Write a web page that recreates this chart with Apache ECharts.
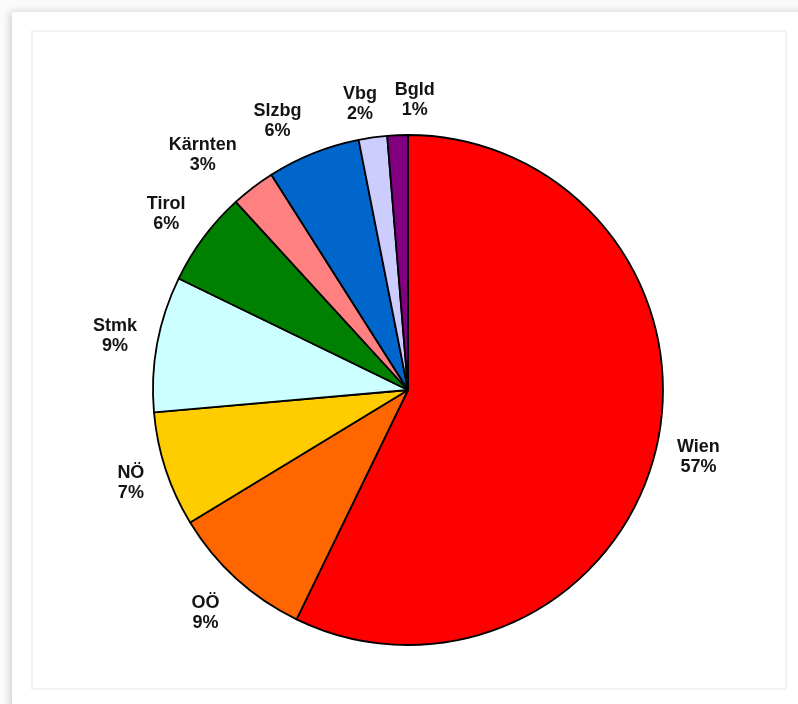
<!DOCTYPE html>
<html>
<head>
<meta charset="utf-8">
<script src="https://cdn.jsdelivr.net/npm/echarts@6/dist/echarts.min.js"></script>
<style>
  html, body { margin: 0; padding: 0; background: #ffffff; }
  #chart { width: 798px; height: 704px; }
</style>
</head>
<body>
<div id="chart"></div>
<script>
const categories = ['Wien', 'OÖ', 'NÖ', 'Stmk', 'Tirol', 'Kärnten', 'Slzbg', 'Vbg', 'Bgld'];
const values = [57.2, 9.1, 7.3, 8.6, 6.0, 2.8, 5.9, 1.8, 1.3];
const colors = ['#FF0000', '#FF6600', '#FFCC00', '#CCFFFF', '#008000', '#FF8080', '#0066CC', '#CCCCFF', '#800080'];

// small label nudges (pixels) to keep the crowded top labels apart, as in the original
const labelNudge = {
  'OÖ': [-2, 3],
  'NÖ': [6, 0],
  'Tirol': [-3, 2],
  'Kärnten': [-24, 2],
  'Slzbg': [-20, 8],
  'Vbg': [-7, 9],
  'Bgld': [19, 8]
};

const chart = echarts.init(document.getElementById('chart'), null, { renderer: 'canvas' });

chart.setOption({
  animation: false,
  backgroundColor: '#fbfbfb',
  graphic: [
    {
      type: 'rect',
      silent: true,
      z: -10,
      shape: { x: 12, y: 12, width: 800, height: 700 },
      style: { fill: '#ffffff', shadowBlur: 8, shadowColor: 'rgba(0,0,0,0.18)', shadowOffsetX: -2, shadowOffsetY: 0 }
    },
    {
      type: 'rect',
      silent: true,
      z: -9,
      shape: { x: 32, y: 31, width: 754, height: 658 },
      style: { fill: '#ffffff', stroke: '#e6e6e6', lineWidth: 1.2 }
    }
  ],
  series: [{
    type: 'pie',
    center: [408, 390],
    radius: 255,
    startAngle: 90,
    clockwise: true,
    silent: true,
    avoidLabelOverlap: false,
    percentPrecision: 0,
    data: categories.map((name, i) => ({
      name: name,
      value: values[i],
      itemStyle: { color: colors[i] }
    })),
    itemStyle: { borderColor: '#000000', borderWidth: 1.8 },
    label: {
      show: true,
      position: 'outside',
      formatter: '{b}\n{d}%',
      fontFamily: 'Liberation Sans, Arial, sans-serif',
      fontWeight: 'bold',
      fontSize: 18,
      lineHeight: 20,
      color: '#141414',
      distanceToLabelLine: 0
    },
    labelLine: { show: false, length: 43, length2: 0 },
    labelLayout: function (p) {
      const n = labelNudge[categories[p.dataIndex]] || [0, 0];
      return { align: 'center', verticalAlign: 'middle', dx: n[0], dy: n[1] };
    },
    emphasis: { disabled: true }
  }]
});
</script>
</body>
</html>
